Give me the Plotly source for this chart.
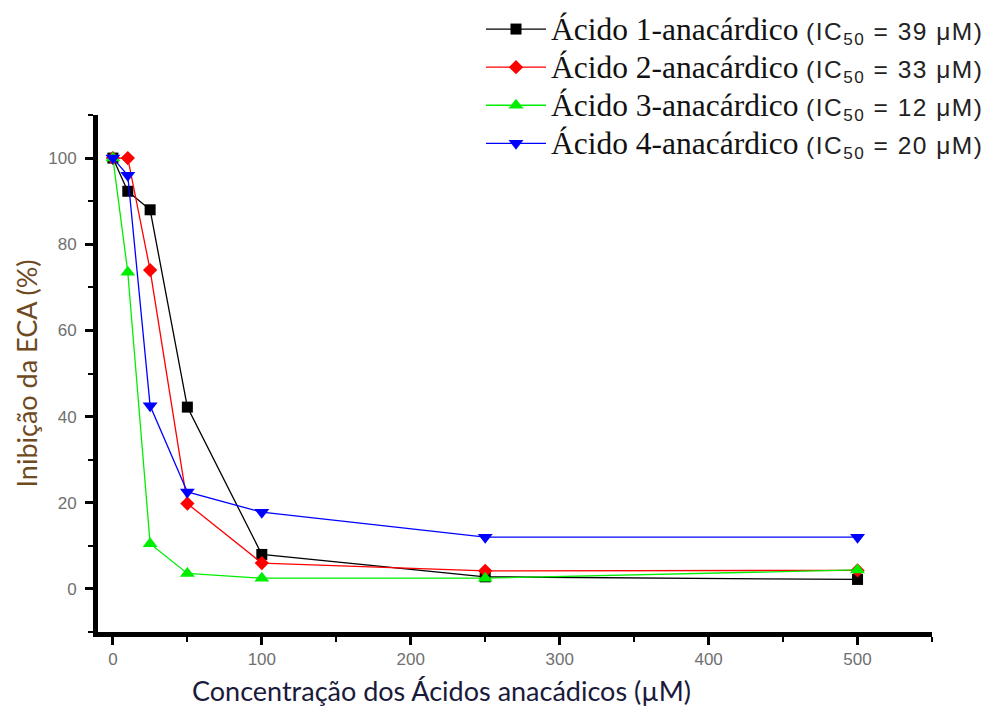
import plotly.graph_objects as go

conc = [0, 10, 25, 50, 100, 250, 500]
acido1 = [100, 92.3, 88, 42.2, 8, 2.8, 2.2]
acido2 = [100, 100, 74, 19.8, 6, 4.2, 4.3]
acido3 = [100, 73.5, 10.5, 3.6, 2.5, 2.5, 4.4]
acido4 = [100, 96, 42.5, 22.5, 17.8, 12, 12]

names = ["Ácido 1-anacárdico", "Ácido 2-anacárdico", "Ácido 3-anacárdico", "Ácido 4-anacárdico"]
ic50 = ["39", "33", "12", "20"]
colors = ["#000000", "#ff0000", "#00ee00", "#0000ff"]
symbols = ["square", "diamond", "triangle-up", "triangle-down"]
msizes = [11, 11, 13, 13]
series = [acido1, acido2, acido3, acido4]

x_title = "Concentração dos Ácidos anacádicos (µM)"
y_title = "Inibição da ECA (%)"

# page body has an 8px default margin, so the figure is drawn 8px in from the corner
W, H = 987, 705
L, R, T, B = 90, 63, 107, 81
PW = W - L - R
PH = H - T - B

fig = go.Figure()
for nm, ic, c, s, ms, ys in zip(names, ic50, colors, symbols, msizes, series):
    label = (f"<span style='font-family:Liberation Serif;font-size:31.5px'>{nm}</span> "
             f"<span style='font-family:Liberation Sans;font-size:24.5px;letter-spacing:1.5px;color:#222'>"
             f"(IC<sub>50</sub> = {ic} μM)</span>")
    fig.add_trace(go.Scatter(
        x=conc, y=ys, mode="lines+markers", name=label,
        line=dict(color=c, width=1.3),
        marker=dict(symbol=s, color=c, size=ms),
    ))

fig.update_layout(
    width=W, height=H,
    paper_bgcolor="white", plot_bgcolor="white",
    margin=dict(l=L, r=R, t=T, b=B, autoexpand=False),
    showlegend=True,
    legend=dict(x=(981 - L) / PW, y=(PH + T + 3) / PH, xanchor="right", yanchor="top",
                bgcolor="rgba(0,0,0,0)", tracegroupgap=0,
                itemwidth=60, font=dict(size=27, color="#111")),
    font=dict(family="Liberation Sans"),
    annotations=[
        dict(text=x_title, xref="paper", yref="paper",
             x=(433 - L) / PW, y=-58 / PH, xanchor="center", yanchor="middle",
             showarrow=False, font=dict(family="Lato", size=27, color="#1a1a3a")),
        dict(text=y_title, xref="paper", yref="paper", textangle=-90,
             x=-72 / PW, y=0.5, xanchor="center", yanchor="middle",
             showarrow=False, font=dict(family="Lato", size=27, color="#6e4a22")),
    ],
)
fig.update_xaxes(
    range=[-10, 550], showgrid=False, zeroline=False,
    showline=True, linecolor="black", linewidth=5,
    ticks="outside", ticklen=8, tickwidth=3, tickcolor="black",
    tick0=0, dtick=100,
    minor=dict(ticks="outside", ticklen=5, tickwidth=2, tickcolor="black", dtick=50, tick0=0),
    tickfont=dict(family="Liberation Sans", size=17, color="#707070"),
)
fig.update_yaxes(
    range=[-10, 110], showgrid=False, zeroline=False,
    showline=True, linecolor="black", linewidth=5,
    ticks="outside", ticklen=8, tickwidth=3, tickcolor="black",
    tick0=0, dtick=20, ticklabelstandoff=5,
    minor=dict(ticks="outside", ticklen=5, tickwidth=2, tickcolor="black", dtick=10, tick0=0),
    tickfont=dict(family="Liberation Sans", size=17, color="#707070"),
)

fig.write_html("out.html")
